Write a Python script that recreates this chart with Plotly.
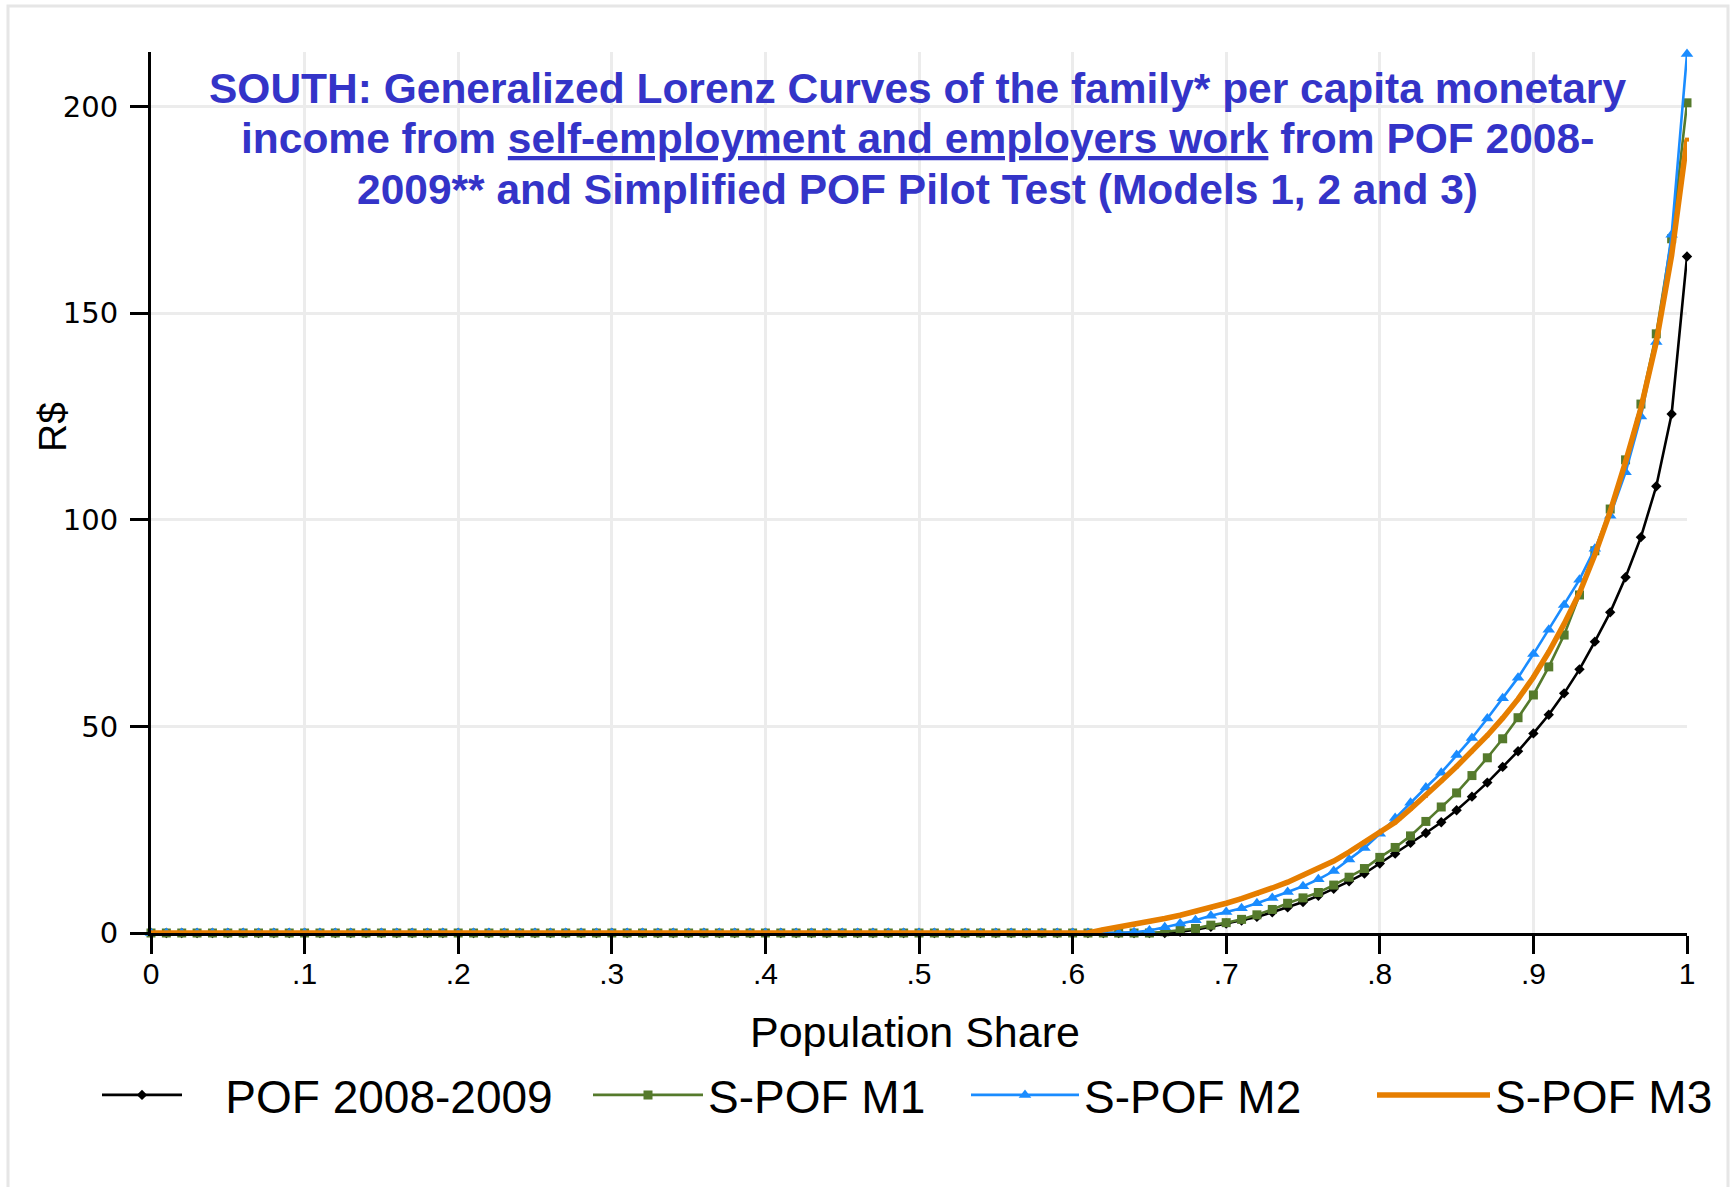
import plotly.graph_objects as go

# ---------------- data ----------------
population_share = [
    0.00, 0.01, 0.02, 0.03, 0.04, 0.05, 0.06, 0.07, 0.08, 0.09,
    0.10, 0.11, 0.12, 0.13, 0.14, 0.15, 0.16, 0.17, 0.18, 0.19,
    0.20, 0.21, 0.22, 0.23, 0.24, 0.25, 0.26, 0.27, 0.28, 0.29,
    0.30, 0.31, 0.32, 0.33, 0.34, 0.35, 0.36, 0.37, 0.38, 0.39,
    0.40, 0.41, 0.42, 0.43, 0.44, 0.45, 0.46, 0.47, 0.48, 0.49,
    0.50, 0.51, 0.52, 0.53, 0.54, 0.55, 0.56, 0.57, 0.58, 0.59,
    0.60, 0.61, 0.62, 0.63, 0.64, 0.65, 0.66, 0.67, 0.68, 0.69,
    0.70, 0.71, 0.72, 0.73, 0.74, 0.75, 0.76, 0.77, 0.78, 0.79,
    0.80, 0.81, 0.82, 0.83, 0.84, 0.85, 0.86, 0.87, 0.88, 0.89,
    0.90, 0.91, 0.92, 0.93, 0.94, 0.95, 0.96, 0.97, 0.98, 0.99,
    1.00,
]

pof_2008_2009 = [
    0, 0, 0, 0, 0, 0, 0, 0, 0, 0,
    0, 0, 0, 0, 0, 0, 0, 0, 0, 0,
    0, 0, 0, 0, 0, 0, 0, 0, 0, 0,
    0, 0, 0, 0, 0, 0, 0, 0, 0, 0,
    0, 0, 0, 0, 0, 0, 0, 0, 0, 0,
    0, 0, 0, 0, 0, 0, 0, 0, 0, 0,
    0, 0, 0, 0, 0, 0, 0, 0.3, 0.8, 1.5,
    2.3, 3.0, 3.9, 5.0, 6.2, 7.5, 9.0, 10.7, 12.5, 14.4,
    16.8, 19.2, 21.8, 24.2, 26.8, 29.7, 33.0, 36.4, 40.2, 44.0,
    48.3, 52.8, 58.0, 63.8, 70.5, 77.6, 86.1, 95.8, 108.1, 125.6,
    163.7,
]

s_pof_m1 = [
    0, 0, 0, 0, 0, 0, 0, 0, 0, 0,
    0, 0, 0, 0, 0, 0, 0, 0, 0, 0,
    0, 0, 0, 0, 0, 0, 0, 0, 0, 0,
    0, 0, 0, 0, 0, 0, 0, 0, 0, 0,
    0, 0, 0, 0, 0, 0, 0, 0, 0, 0,
    0, 0, 0, 0, 0, 0, 0, 0, 0, 0,
    0, 0, 0, 0, 0, 0, 0.3, 0.7, 1.1, 1.9,
    2.5, 3.3, 4.4, 5.7, 7.2, 8.5, 9.8, 11.6, 13.5, 15.6,
    18.3, 20.7, 23.5, 27.0, 30.5, 33.9, 38.1, 42.4, 47.0, 52.1,
    57.6, 64.4, 72.1, 81.8, 92.5, 102.6, 114.5, 128.0, 145.0, 168.0,
    200.9,
]

s_pof_m2 = [
    0, 0, 0, 0, 0, 0, 0, 0, 0, 0,
    0, 0, 0, 0, 0, 0, 0, 0, 0, 0,
    0, 0, 0, 0, 0, 0, 0, 0, 0, 0,
    0, 0, 0, 0, 0, 0, 0, 0, 0, 0,
    0, 0, 0, 0, 0, 0, 0, 0, 0, 0,
    0, 0, 0, 0, 0, 0, 0, 0, 0, 0,
    0, 0, 0, 0, 0.2, 0.6, 1.4, 2.3, 3.1, 4.2,
    5.1, 6.0, 7.2, 8.5, 9.9, 11.3, 13.0, 15.0, 17.8, 20.6,
    24.0, 27.8, 31.5, 35.2, 38.8, 43.1, 47.2, 51.9, 56.8, 61.8,
    67.5, 73.4, 79.4, 85.5, 93.0, 101.0, 111.5, 125.0, 143.0, 169.0,
    212.7,
]

s_pof_m3 = [
    0, 0, 0, 0, 0, 0, 0, 0, 0, 0,
    0, 0, 0, 0, 0, 0, 0, 0, 0, 0,
    0, 0, 0, 0, 0, 0, 0, 0, 0, 0,
    0, 0, 0, 0, 0, 0, 0, 0, 0, 0,
    0, 0, 0, 0, 0, 0, 0, 0, 0, 0,
    0, 0, 0, 0, 0, 0, 0, 0, 0, 0,
    0, 0, 0.8, 1.4, 2.0, 2.8, 3.5, 4.3, 5.2, 6.1,
    7.2, 8.3, 9.5, 10.9, 12.3, 14.0, 15.7, 17.4, 19.6, 21.9,
    24.3, 26.8, 30.0, 33.2, 36.8, 40.3, 44.0, 47.8, 52.0, 56.6,
    61.9, 68.0, 74.8, 82.3, 91.5, 102.0, 114.0, 127.0, 143.0, 164.0,
    192.0,
]

series_names = ["POF 2008-2009", "S-POF M1", "S-POF M2", "S-POF M3"]

x_tick_vals = [0, 0.1, 0.2, 0.3, 0.4, 0.5, 0.6, 0.7, 0.8, 0.9, 1.0]
x_tick_text = ["0", ".1", ".2", ".3", ".4", ".5", ".6", ".7", ".8", ".9", "1"]
y_tick_vals = [0, 50, 100, 150, 200]

title_lines = [
    "<b>SOUTH: Generalized Lorenz Curves of the family* per capita monetary</b>",
    "<b>income from <u>self-employment and employers work</u> from POF 2008-</b>",
    "<b>2009** and Simplified POF Pilot Test (Models 1, 2 and 3)</b>",
]

# ---------------- figure ----------------
W, H = 1731, 1187
L, R, T, B = 151, 44, 52, 254
plot_w = W - L - R
plot_h = H - T - B


def px_x(p):
    return (p - L) / plot_w


def px_y(p):
    return (H - B - p) / plot_h


ARIAL = "Arial, 'Liberation Sans', sans-serif"

fig = go.Figure()

styles = [
    dict(color="#000000", width=2.6, symbol="diamond", size=8, legend="legend", itemw=80, pad="\u00a0\u00a0\u00a0"),
    dict(color="#557a2c", width=2.6, symbol="square", size=9, legend="legend2", itemw=110, pad=""),
    dict(color="#1a8cff", width=2.6, symbol="triangle-up", size=11, legend="legend3", itemw=108, pad=""),
    dict(color="#e67e00", width=5.5, symbol="square", size=4, legend="legend4", itemw=113, pad=""),
]
series_values = [pof_2008_2009, s_pof_m1, s_pof_m2, s_pof_m3]

for name, vals, st in zip(series_names, series_values, styles):
    fig.add_trace(
        go.Scatter(
            x=population_share,
            y=vals,
            name=st["pad"] + name,
            mode="lines+markers",
            line=dict(color=st["color"], width=st["width"]),
            marker=dict(symbol=st["symbol"], size=st["size"], color=st["color"], line=dict(width=0)),
            cliponaxis=False,
            legend=st["legend"],
        )
    )

# individual legends placed at the reference positions
legend_x_px = [97, 588, 966, 1372]
legend_common = dict(
    orientation="h",
    xanchor="left",
    yanchor="middle",
    y=px_y(1095),
    font=dict(family=ARIAL, size=46, color="#000000"),
    bgcolor="rgba(0,0,0,0)",
    borderwidth=0,
)
for i, st in enumerate(styles):
    key = "legend" if i == 0 else f"legend{i + 1}"
    fig.update_layout(**{key: dict(legend_common, x=px_x(legend_x_px[i]), itemwidth=st["itemw"])})

# title lines (inside plot area)
title_y_px = [88, 139, 189]
for line, ypx in zip(title_lines, title_y_px):
    fig.add_annotation(
        text=line,
        x=px_x(917.5),
        y=px_y(ypx),
        xref="paper",
        yref="paper",
        xanchor="center",
        yanchor="middle",
        showarrow=False,
        font=dict(family=ARIAL, size=42.5, color="#3434c8"),
    )

# axis titles
fig.add_annotation(
    text="Population Share",
    x=px_x(915),
    y=px_y(1032),
    xref="paper",
    yref="paper",
    xanchor="center",
    yanchor="middle",
    showarrow=False,
    font=dict(family=ARIAL, size=43, color="#000000"),
)
fig.add_annotation(
    text="R$",
    x=px_x(53),
    y=px_y(427),
    xref="paper",
    yref="paper",
    xanchor="center",
    yanchor="middle",
    textangle=-90,
    showarrow=False,
    font=dict(family=ARIAL, size=39, color="#000000"),
)

# light outer frame
fig.add_shape(
    type="rect",
    xref="paper",
    yref="paper",
    x0=px_x(8),
    x1=px_x(1728),
    y0=px_y(1195),
    y1=px_y(6),
    line=dict(color="#e6e6e6", width=3),
    fillcolor="rgba(0,0,0,0)",
    layer="below",
)

fig.update_layout(
    width=W,
    height=H,
    margin=dict(l=L, r=R, t=T, b=B, pad=0),
    paper_bgcolor="white",
    plot_bgcolor="white",
    showlegend=True,
    xaxis=dict(
        range=[0, 1],
        tickvals=x_tick_vals,
        ticktext=x_tick_text,
        showgrid=True,
        gridcolor="#ececec",
        gridwidth=3,
        zeroline=False,
        showline=True,
        linecolor="#000000",
        linewidth=3,
        ticks="outside",
        ticklen=18,
        tickwidth=3,
        tickcolor="#000000",
        ticklabelstandoff=-6,
        tickfont=dict(family=ARIAL, size=30, color="#000000"),
    ),
    yaxis=dict(
        range=[0, 213.2],
        tickvals=y_tick_vals,
        showgrid=True,
        gridcolor="#ececec",
        gridwidth=3,
        zeroline=False,
        showline=True,
        linecolor="#000000",
        linewidth=3,
        ticks="outside",
        ticklen=18,
        tickwidth=3,
        tickcolor="#000000",
        ticklabelstandoff=6,
        tickfont=dict(family="'DejaVu Sans', Verdana, sans-serif", size=29, color="#000000"),
    ),
)

fig.write_html(
    "out.html",
    config={"displayModeBar": False},
    post_script="document.body.style.margin='0';",
)
